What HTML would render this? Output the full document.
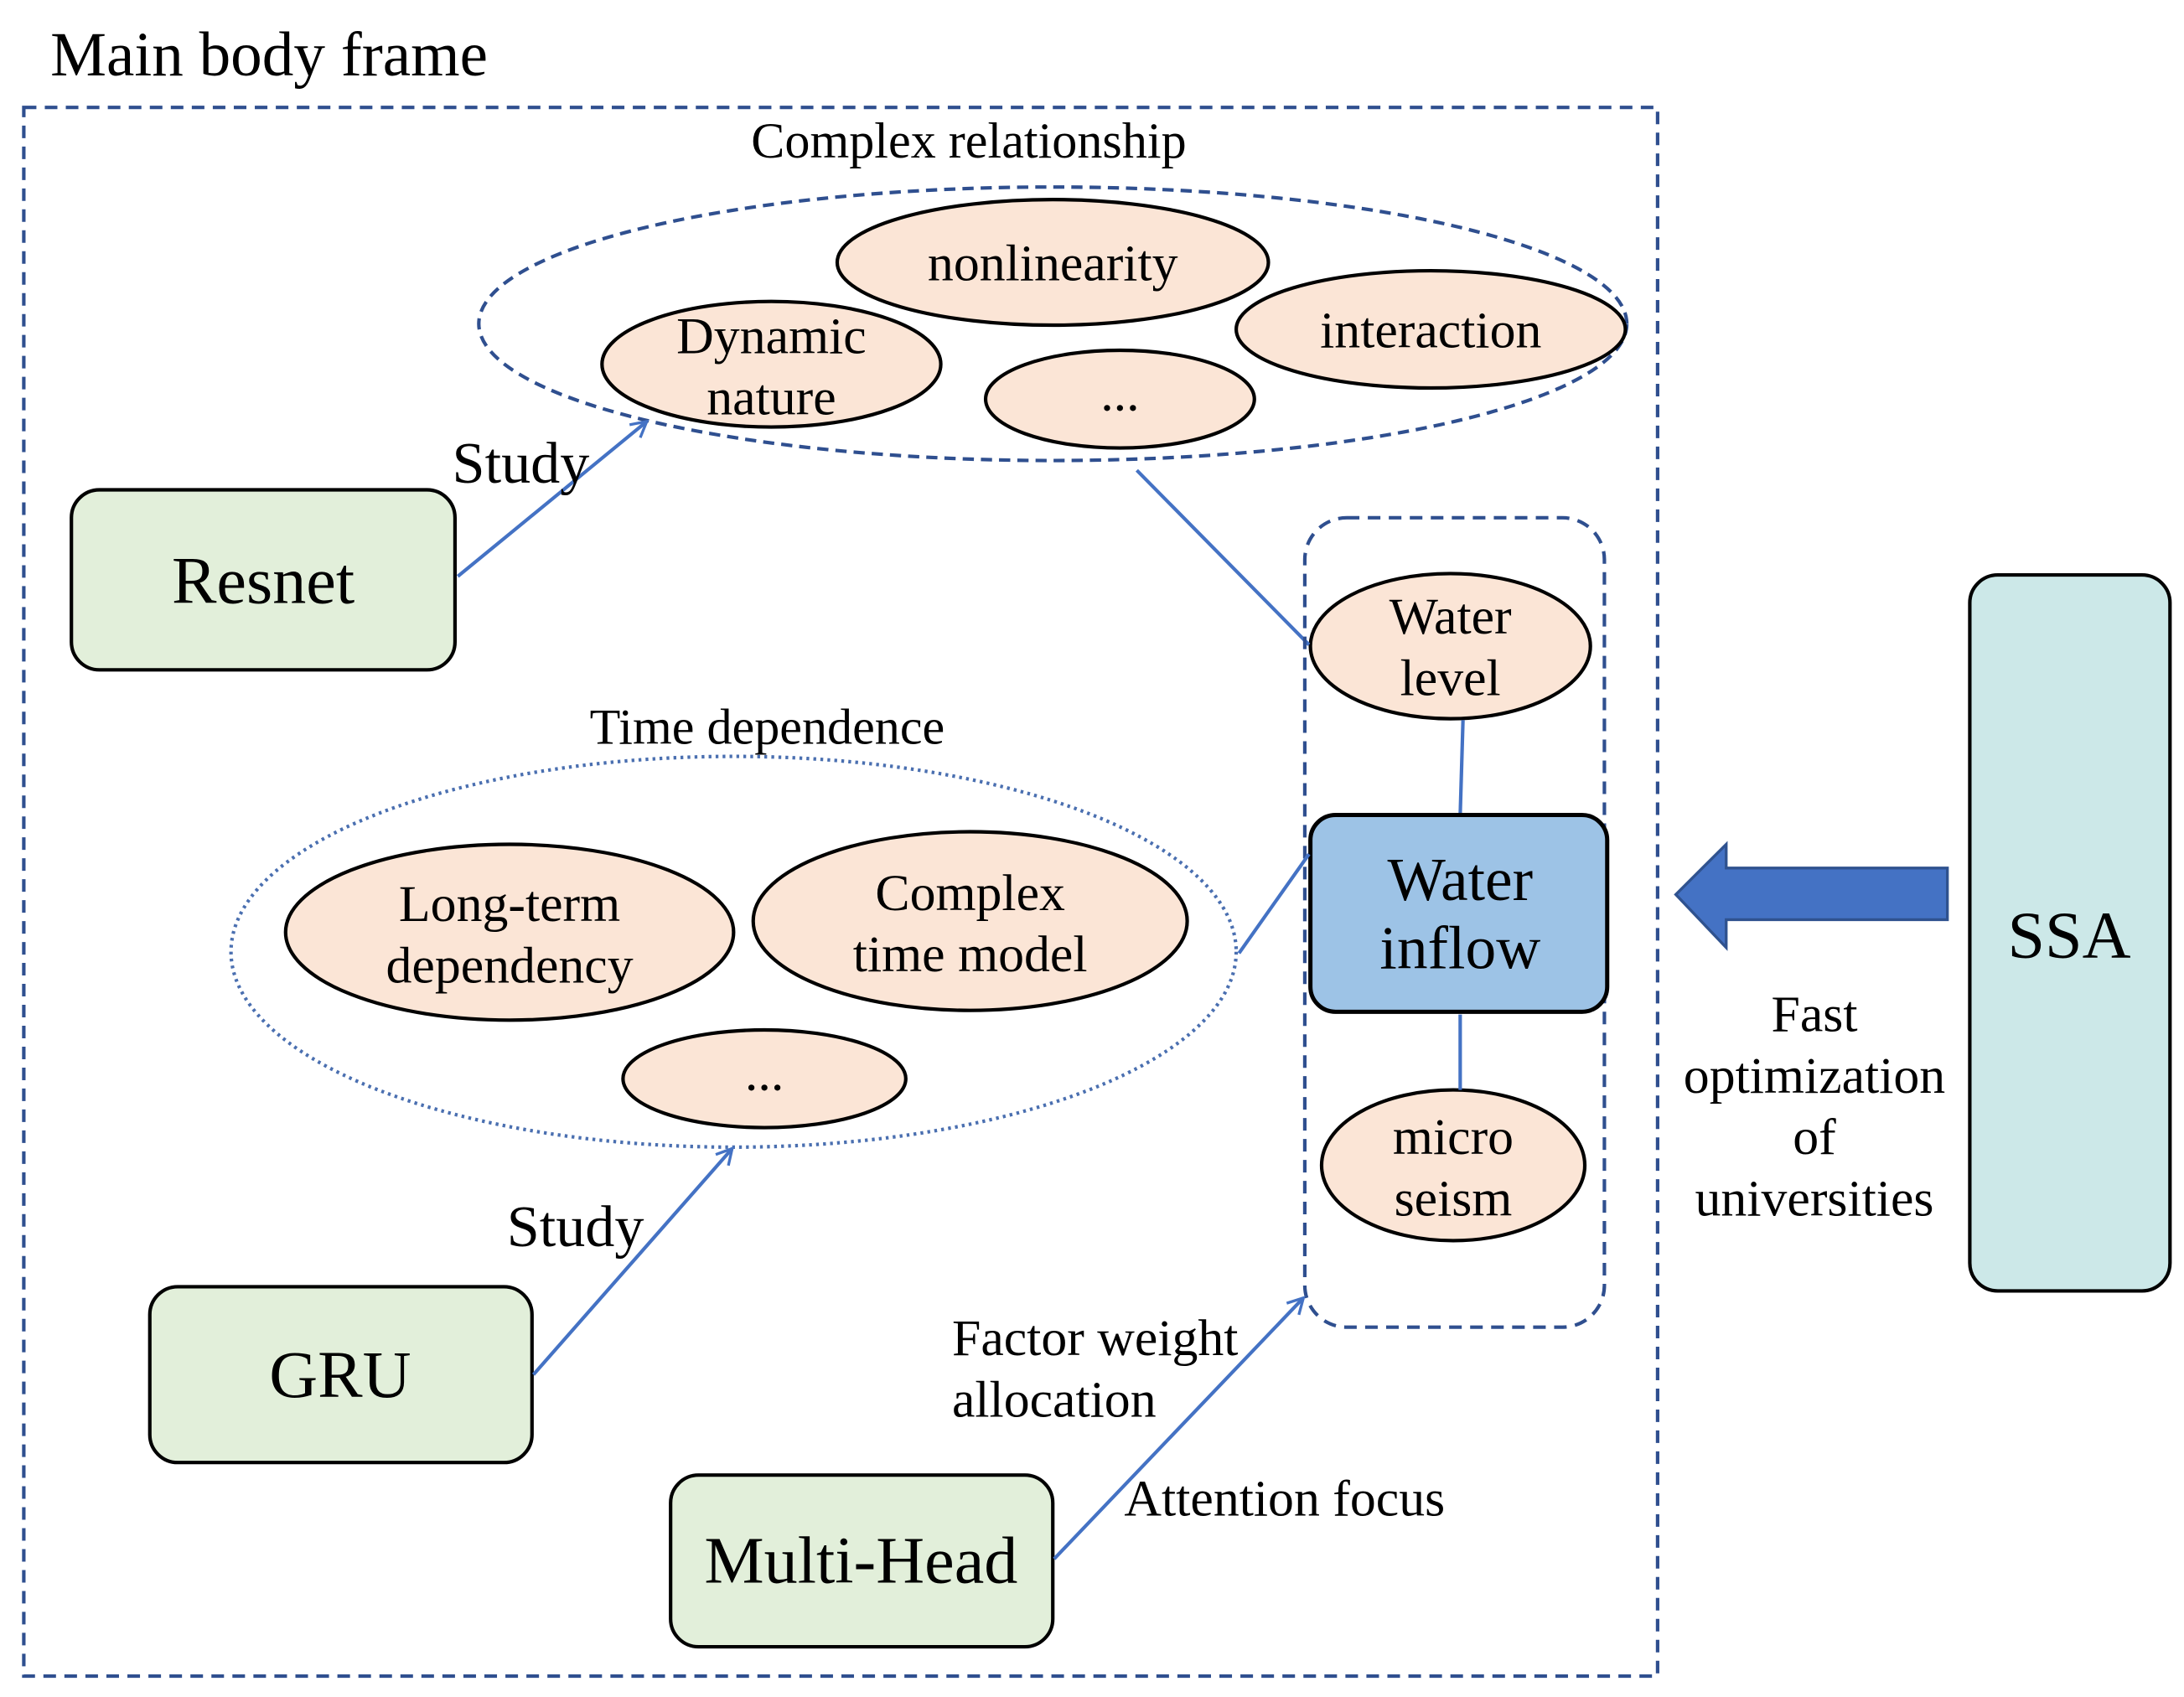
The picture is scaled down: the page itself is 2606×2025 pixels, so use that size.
<!DOCTYPE html>
<html><head><meta charset="utf-8"><style>
html,body{margin:0;padding:0;background:#fff;}
svg{display:block;}
text{font-family:"Liberation Serif",serif;fill:#000;}
</style></head><body>
<svg width="2606" height="2025" viewBox="0 0 1560 1216" preserveAspectRatio="none" xmlns="http://www.w3.org/2000/svg">
<defs>
<marker id="ah" markerWidth="14" markerHeight="14" refX="12" refY="7" orient="auto" markerUnits="userSpaceOnUse">
<path d="M1,1 L12,7 L1,13" fill="none" stroke="#4472c4" stroke-width="2"/>
</marker>
</defs>
<text x="36" y="54" font-size="45">Main body frame</text>
<rect x="17" y="77" width="1167" height="1124" fill="none" stroke="#2f4f8f" stroke-width="2.5" stroke-dasharray="9,6"/>
<text x="692" y="113" font-size="36" text-anchor="middle">Complex relationship</text>
<ellipse cx="752" cy="232" rx="410" ry="98" fill="none" stroke="#2f4f8f" stroke-width="2.5" stroke-dasharray="8,5"/>
<g fill="#fbe5d6" stroke="#000" stroke-width="2.5">
<ellipse cx="752" cy="188" rx="154" ry="45"/>
<ellipse cx="551" cy="261" rx="121" ry="45"/>
<ellipse cx="1022" cy="236" rx="139" ry="42"/>
<ellipse cx="800" cy="286" rx="96" ry="35"/>
<ellipse cx="1036" cy="463" rx="100" ry="52"/>
<ellipse cx="1038" cy="835" rx="94" ry="54"/>
<ellipse cx="364" cy="668" rx="160" ry="63"/>
<ellipse cx="693" cy="660" rx="155" ry="64"/>
<ellipse cx="546" cy="773" rx="101" ry="35"/>
</g>
<g font-size="37" text-anchor="middle">
<text x="752" y="201">nonlinearity</text>
<text x="551" y="253">Dynamic</text>
<text x="551" y="297">nature</text>
<text x="1022" y="249">interaction</text>
<text x="800" y="294">...</text>
<text x="1036" y="454">Water</text>
<text x="1036" y="498">level</text>
<text x="1038" y="827">micro</text>
<text x="1038" y="871">seism</text>
<text x="364" y="660">Long-term</text>
<text x="364" y="704">dependency</text>
<text x="693" y="652">Complex</text>
<text x="693" y="696">time model</text>
<text x="546" y="781">...</text>
</g>
<rect x="51" y="351" width="274" height="129" rx="20" fill="#e2efda" stroke="#000" stroke-width="2.5"/>
<text x="188" y="432" font-size="48" text-anchor="middle">Resnet</text>
<line x1="327" y1="413" x2="462" y2="302" stroke="#4472c4" stroke-width="2.5" marker-end="url(#ah)"/>
<text x="323" y="346" font-size="42">Study</text>
<line x1="812" y1="337" x2="935" y2="462" stroke="#4472c4" stroke-width="2.5"/>
<rect x="932" y="371" width="214" height="580" rx="30" fill="none" stroke="#2f4f8f" stroke-width="2.5" stroke-dasharray="9,6"/>
<line x1="1045" y1="516" x2="1043" y2="584" stroke="#4472c4" stroke-width="2.5"/>
<rect x="936" y="584" width="212" height="141" rx="18" fill="#9dc3e6" stroke="#000" stroke-width="3"/>
<text x="1043" y="645" font-size="44" text-anchor="middle">Water</text>
<text x="1043" y="694" font-size="44" text-anchor="middle">inflow</text>
<line x1="1043" y1="727" x2="1043" y2="781" stroke="#4472c4" stroke-width="2.5"/>
<text x="548" y="533" font-size="36" text-anchor="middle">Time dependence</text>
<ellipse cx="524" cy="682" rx="359" ry="140" fill="none" stroke="#4a6fb0" stroke-width="2.5" stroke-dasharray="2,3"/>
<line x1="885" y1="683" x2="935" y2="612" stroke="#4472c4" stroke-width="2.5"/>
<rect x="107" y="922" width="273" height="126" rx="20" fill="#e2efda" stroke="#000" stroke-width="2.5"/>
<text x="243" y="1001" font-size="48" text-anchor="middle">GRU</text>
<line x1="381" y1="985" x2="523" y2="823" stroke="#4472c4" stroke-width="2.5" marker-end="url(#ah)"/>
<text x="362" y="893" font-size="42">Study</text>
<rect x="479" y="1057" width="273" height="123" rx="20" fill="#e2efda" stroke="#000" stroke-width="2.5"/>
<text x="615" y="1134" font-size="48" text-anchor="middle">Multi-Head</text>
<line x1="753" y1="1117" x2="931" y2="930" stroke="#4472c4" stroke-width="2.5" marker-end="url(#ah)"/>
<text x="680" y="971" font-size="37">Factor weight</text>
<text x="680" y="1015" font-size="37">allocation</text>
<text x="803" y="1086" font-size="37">Attention focus</text>
<path d="M1197,641 L1233,605 L1233,622 L1391,622 L1391,659 L1233,659 L1233,679 Z" fill="#4472c4" stroke="#2f528f" stroke-width="2"/>
<g font-size="37" text-anchor="middle">
<text x="1296" y="739">Fast</text>
<text x="1296" y="783">optimization</text>
<text x="1296" y="827">of</text>
<text x="1296" y="871">universities</text>
</g>
<rect x="1407" y="412" width="143" height="513" rx="20" fill="#cce8e8" stroke="#000" stroke-width="2.5"/>
<text x="1478" y="686" font-size="48" text-anchor="middle">SSA</text>
</svg>
</body></html>
